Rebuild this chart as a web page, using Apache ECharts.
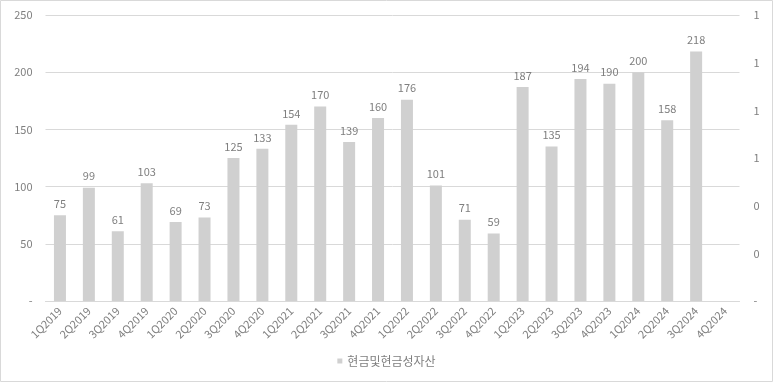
<!DOCTYPE html>
<html><head><meta charset="utf-8">
<script src="https://cdn.jsdelivr.net/npm/echarts@6/dist/echarts.min.js"></script>
<style>html,body{margin:0;padding:0;background:#fff}#c{width:773px;height:382px}</style>
</head><body><div id="c"></div>
<script>
const categories = ['1Q2019','2Q2019','3Q2019','4Q2019','1Q2020','2Q2020','3Q2020','4Q2020','1Q2021','2Q2021','3Q2021','4Q2021','1Q2022','2Q2022','3Q2022','4Q2022','1Q2023','2Q2023','3Q2023','4Q2023','1Q2024','2Q2024','3Q2024','4Q2024'];
const cashValues = [75,99,61,103,69,73,125,133,154,170,139,160,176,101,71,59,187,135,194,190,200,158,218,null];
const seriesName = '현금및현금성자산';
const leftTicks = {min:0, max:250, interval:50};
const rightTicks = {min:0, max:1.2, interval:0.2};

const font = '"Noto Sans CJK KR", "Noto Sans", sans-serif';
const txt = '#7f7f7f';
const chart = echarts.init(document.getElementById('c'), null, {renderer:'canvas'});
chart.setOption({
  animation:false,
  graphic:[{type:'rect', shape:{x:0.5,y:0.5,width:772,height:381}, style:{fill:'none', stroke:'#d9d9d9', lineWidth:1}, silent:true}],
  grid:{left:45.5, right:33.5, top:15, bottom:81, containLabel:false},
  legend:{bottom:10, left:'center', itemWidth:5, itemHeight:5, icon:'rect',
    textStyle:{color:txt, fontSize:12, fontFamily:font}, data:[seriesName]},
  xAxis:{type:'category', data:categories,
    axisLine:{lineStyle:{color:'#d9d9d9'}}, axisTick:{show:false},
    axisLabel:{rotate:45, interval:0, color:txt, fontSize:11, fontFamily:font, margin:8}},
  yAxis:[
    {type:'value', min:leftTicks.min, max:leftTicks.max, interval:leftTicks.interval,
      splitLine:{lineStyle:{color:'#d9d9d9'}}, axisLine:{show:false}, axisTick:{show:false},
      axisLabel:{color:txt, fontSize:11, fontFamily:font, margin:13,
        formatter:v => v === 0 ? '-' : String(v)}},
    {type:'value', position:'right', min:rightTicks.min, max:rightTicks.max, interval:rightTicks.interval,
      splitLine:{show:false}, axisLine:{show:false}, axisTick:{show:false},
      axisLabel:{color:txt, fontSize:11, fontFamily:font, margin:14,
        formatter:v => v === 0 ? '-' : String(Math.round(v))}}
  ],
  series:[{name:seriesName, type:'bar', data:cashValues, barWidth:12,
    itemStyle:{color:'#d0d0d0'},
    label:{show:true, position:'top', color:txt, fontSize:11, fontFamily:font, distance:6}}]
});
</script></body></html>
